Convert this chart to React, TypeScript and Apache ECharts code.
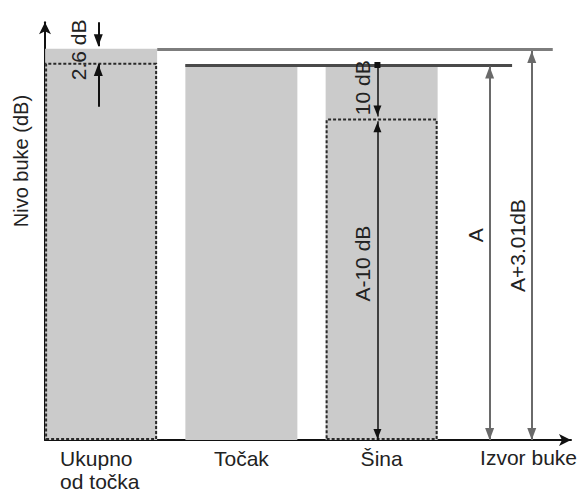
import { useEffect, useRef } from 'react';
import * as echarts from 'echarts';

// ---- data (dB levels, A = 70 dB reference) ----
const categories = ['Ukupno\nod točka', 'Točak', 'Šina'];
const barLevels = [73.01, 70, 70];
const partLevels: (number | null)[] = [70.41, null, 60];
const levelA = 70;
const levelTotal = 73.01;
const yMax = 78;
const xAxisName = 'Izvor buke';
const yAxisName = 'Nivo buke (dB)';
const annotationTexts = ['2.6 dB', '10 dB', 'A-10 dB', 'A', 'A+3.01dB'];

const FONT = "'Liberation Sans', Arial, Helvetica, sans-serif";
const TEXT = '#222';

const labelOf = (text: string, distance: number, shift = 0) => ({
  show: true,
  formatter: text,
  position: 'middle',
  distance,
  fontSize: 21,
  color: TEXT,
  fontFamily: FONT,
  padding: [0, 0, 0, shift],
});

const buildMarkLines = () => {
  const gray = { color: '#6a6a6a', width: 2, type: 'solid' };
  const black = { color: '#111', width: 2, type: 'solid' };
  const thin = { color: '#111', width: 1.5, type: 'solid' };
  const big = [9, 12];
  const small = [8, 10];
  return [
    // level lines
    [{ coord: [0.4, levelTotal], lineStyle: { color: '#7d7d7d', width: 3, type: 'solid' } }, { coord: [3.22, levelTotal] }],
    [{ coord: [0.6, levelA], lineStyle: { color: '#4a4a4a', width: 3, type: 'solid' } }, { coord: [2.93, levelA] }],
    // A
    [
      { coord: [2.77, 0], symbol: 'triangle', symbolSize: big, lineStyle: gray, label: labelOf(annotationTexts[3], 4, 36) },
      { coord: [2.77, 69.7], symbol: 'triangle', symbolSize: big },
    ],
    // A+3.01dB
    [
      { coord: [3.07, 0], symbol: 'triangle', symbolSize: big, lineStyle: gray, label: labelOf(annotationTexts[4], 4, 0) },
      { coord: [3.07, 72.6], symbol: 'triangle', symbolSize: big },
    ],
    // A-10 dB
    [
      { coord: [1.97, 0], symbol: 'triangle', symbolSize: small, lineStyle: thin, label: labelOf(annotationTexts[2], 4, 34) },
      { coord: [1.97, 59.5], symbol: 'triangle', symbolSize: small },
    ],
    // 10 dB
    [
      { coord: [1.97, 60.4], symbol: 'triangle', symbolSize: small, lineStyle: thin, label: labelOf(annotationTexts[1], 4, 6) },
      { coord: [1.97, levelA], symbol: 'rect', symbolSize: [6, 6], symbolOffset: [0, 0] },
    ],
    // 2.6 dB arrows
    [
      { coord: [-0.02, 73.5], symbol: 'triangle', symbolSize: big, lineStyle: black },
      { coord: [-0.02, yMax], symbol: 'none' },
    ],
    [
      { coord: [-0.02, 62.2], symbol: 'none', lineStyle: black, label: labelOf(annotationTexts[0], 9, 71) },
      { coord: [-0.02, 70.2], symbol: 'triangle', symbolSize: big },
    ],
  ];
};

const option = {
  animation: false,
  backgroundColor: '#ffffff',
  textStyle: { fontFamily: FONT },
  grid: { left: 45, right: 7, top: 22.14, bottom: 52, containLabel: false, outerBoundsMode: 'none' },
  xAxis: {
    type: 'value',
    min: -0.4,
    max: 3.35,
    name: xAxisName,
    nameLocation: 'end',
    nameGap: 6,
    nameMoveOverlap: false,
    nameTextStyle: { fontSize: 21, color: TEXT, fontFamily: FONT, align: 'right', verticalAlign: 'top', padding: [7, 0, 0, 0] },
    axisLine: { show: true, onZero: false, symbol: ['none', 'arrow'], symbolSize: [9, 12], lineStyle: { color: '#111', width: 2 } },
    axisTick: { show: false },
    splitLine: { show: false },
    axisLabel: {
      customValues: categories.map((_, i) => i),
      margin: 7,
      fontSize: 21,
      lineHeight: 23,
      color: TEXT,
      fontFamily: FONT,
      formatter: (v: number) => {
        const c = categories[Math.round(v)] ?? '';
        const lines = c.split('\n');
        return lines.length > 1 ? lines.map((l) => `{l|${l}}`).join('\n') : c;
      },
      rich: { l: { width: 82, align: 'left', fontSize: 21, lineHeight: 23, color: TEXT, fontFamily: FONT } },
    },
  },
  yAxis: {
    type: 'value',
    min: 0,
    max: yMax,
    name: yAxisName,
    nameLocation: 'middle',
    nameRotate: 90,
    nameGap: 14,
    nameMoveOverlap: false,
    nameTextStyle: { fontSize: 20, color: TEXT, fontFamily: FONT, padding: [0, 0, 0, 140] },
    axisLine: { show: true, onZero: false, symbol: ['none', 'arrow'], symbolSize: [9, 12], lineStyle: { color: '#111', width: 2 } },
    axisTick: { show: false },
    axisLabel: { show: false },
    splitLine: { show: false },
  },
  series: [
    {
      type: 'bar',
      name: 'nivo',
      data: barLevels.map((v, i) => [i, v]),
      barWidth: 112,
      barGap: '-100%',
      itemStyle: { color: '#cbcbcb' },
      silent: true,
    },
    {
      type: 'bar',
      name: 'komponenta',
      data: partLevels.map((v, i) => (v == null ? null : [i, v])).filter((d) => d != null),
      barWidth: 112,
      barGap: '-100%',
      itemStyle: { color: 'rgba(0,0,0,0)', borderColor: '#2a2a2a', borderWidth: 2, borderType: [3, 2] },
      silent: true,
    },
    {
      type: 'line',
      name: 'oznake',
      data: [],
      clip: false,
      silent: true,
      markLine: {
        silent: true,
        animation: false,
        symbol: 'none',
        symbolSize: [9, 12],
        symbolOffset: [[0, 6], [0, 6]],
        label: { show: false },
        lineStyle: { type: 'solid' },
        emphasis: { disabled: true },
        data: buildMarkLines(),
      },
    },
  ],
};

export default function App() {
  const ref = useRef<HTMLDivElement>(null);
  useEffect(() => {
    const chart = echarts.init(ref.current!, null, { renderer: 'svg' });
    chart.setOption(option as any);
    return () => chart.dispose();
  }, []);
  return (
    <div
      ref={ref}
      style={{ position: 'absolute', left: 0, top: 0, width: 578, height: 492, background: '#fff' }}
    />
  );
}
